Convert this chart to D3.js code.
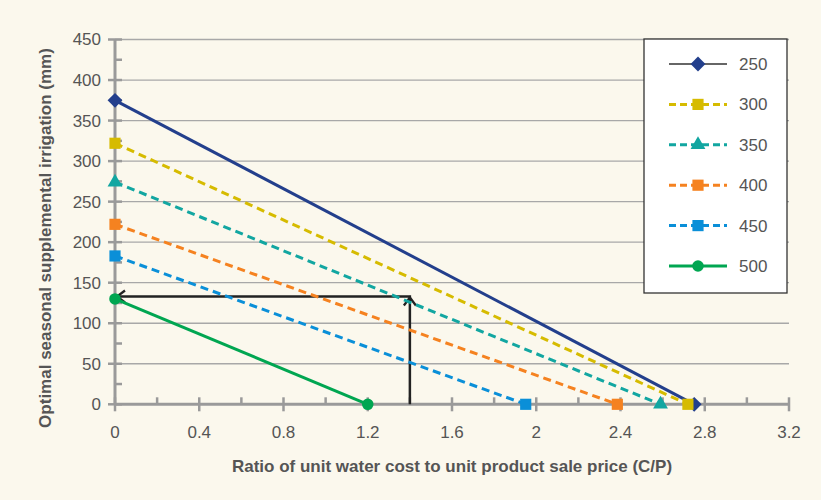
<!DOCTYPE html>
<html><head><meta charset="utf-8">
<script src="https://cdn.jsdelivr.net/npm/d3@7"></script>
<style>body{margin:0;background:#fbf8ed;}svg{display:block;font-family:"Liberation Sans",Arial,sans-serif;}</style>
</head><body>
<svg id="c" width="821" height="500"></svg>
<script>
const seriesNames = ["250","300","350","400","450","500"];
const startY = [375, 322, 274, 222, 183, 130];   // value at C/P = 0
const endX   = [2.75, 2.72, 2.59, 2.385, 1.95, 1.2]; // C/P where irrigation = 0
const colors = ["#233f8c","#d6bb00","#12a6a1","#f58220","#0a8fd8","#00a651"];
const symbols = ["diamond","square","triangle","square","square","circle"];
const dashed = [false,true,true,true,true,false];
const xTicks = [0,0.4,0.8,1.2,1.6,2,2.4,2.8,3.2];
const yTicks = [0,50,100,150,200,250,300,350,400,450];
const guideX = [1.4];
const guideY = [133];

const svg = d3.select("#c");
const x = d3.scaleLinear().domain([0,3.2]).range([115,789]);
const y = d3.scaleLinear().domain([0,450]).range([404.3,39.5]);
const fs = 17;

// gridlines
svg.append("g").selectAll("line").data(yTicks.filter(d=>d>0)).join("line")
  .attr("x1",x(0)).attr("x2",x(3.2)).attr("y1",d=>y(d)).attr("y2",d=>y(d))
  .attr("stroke","#a8a8a8").attr("stroke-width",1.3);

const axCol = "#9a9a9a";
// y axis
svg.append("line").attr("x1",x(0)).attr("x2",x(0)).attr("y1",y(0)).attr("y2",y(450))
  .attr("stroke",axCol).attr("stroke-width",3);
svg.append("g").selectAll("line").data(d3.range(0,451,25)).join("line")
  .attr("x1",d=>d%50===0?x(0)-7:x(0)).attr("x2",x(0)+7)
  .attr("y1",d=>y(d)).attr("y2",d=>y(d)).attr("stroke",axCol).attr("stroke-width",2.5);
svg.append("g").selectAll("text").data(yTicks).join("text")
  .attr("x",101).attr("y",d=>y(d)).attr("dy","0.35em").attr("text-anchor","end")
  .attr("font-size",fs).attr("fill","#555").text(d=>d);
// x axis
svg.append("line").attr("x1",x(0)).attr("x2",x(3.2)).attr("y1",y(0)).attr("y2",y(0))
  .attr("stroke",axCol).attr("stroke-width",3);
svg.append("g").selectAll("line").data(d3.range(0,17).map(i=>i*0.2)).join("line")
  .attr("x1",d=>x(d)).attr("x2",d=>x(d))
  .attr("y1",y(0)-7).attr("y2",(d,i)=>i%2===0?y(0)+7:y(0))
  .attr("stroke",axCol).attr("stroke-width",2.5);
svg.append("g").selectAll("text").data(xTicks).join("text")
  .attr("x",d=>x(d)).attr("y",432).attr("dy","0.35em").attr("text-anchor","middle")
  .attr("font-size",fs).attr("fill","#555").text(d=>d);

// titles
svg.append("text").attr("x",452).attr("y",472).attr("text-anchor","middle")
  .attr("font-size",fs).attr("font-weight","bold").attr("fill","#555")
  .text("Ratio of unit water cost to unit product sale price (C/P)");
svg.append("text").attr("transform","translate(51,238) rotate(-90)").attr("text-anchor","middle")
  .attr("font-size",fs).attr("font-weight","bold").attr("fill","#555")
  .text("Optimal seasonal supplemental irrigation (mm)");

// guide arrows
const gx = x(guideX[0]), gy = y(guideY[0]);
svg.append("path").attr("d",`M${gx},${y(0)}V${gy}H${x(0)}`)
  .attr("fill","none").attr("stroke","#222").attr("stroke-width",2.5);
svg.append("path").attr("d",`M${gx-6},${gy+9}L${gx},${gy+1}L${gx+6},${gy+9}`)
  .attr("fill","none").attr("stroke","#222").attr("stroke-width",2.3);
svg.append("path").attr("d",`M${x(0)+10},${gy-6}L${x(0)+2},${gy}L${x(0)+10},${gy+6}`)
  .attr("fill","none").attr("stroke","#222").attr("stroke-width",2.3);

function symPath(s){
  const m = {diamond:[d3.symbolSquare,110], square:[d3.symbolSquare,125], triangle:[d3.symbolTriangle,95], circle:[d3.symbolCircle,105]};
  return d3.symbol().type(m[s][0]).size(m[s][1])();
}
const rot = s => s==="diamond" ? " rotate(45)" : "";

// series lines
const line = d3.line().x(d=>x(d[0])).y(d=>y(d[1]));
seriesNames.forEach((n,i)=>{
  const pts = [[0,startY[i]],[endX[i],0]];
  svg.append("path").attr("d",line(pts)).attr("fill","none").attr("stroke",colors[i])
    .attr("stroke-width",3).attr("stroke-dasharray",dashed[i]?"8,5":null);
});
seriesNames.forEach((n,i)=>{
  const pts = [[0,startY[i]],[endX[i],0]];
  svg.append("g").selectAll("path").data(pts).join("path")
    .attr("d",symPath(symbols[i])).attr("fill",colors[i])
    .attr("transform",d=>`translate(${x(d[0])},${y(d[1])})${rot(symbols[i])}`);
});

// legend
const lg = svg.append("g");
lg.append("rect").attr("x",644).attr("y",39).attr("width",143).attr("height",254)
  .attr("fill","#fff").attr("stroke","#333").attr("stroke-width",1.3);
seriesNames.forEach((n,i)=>{
  const ly = 64 + i*40.4;
  lg.append("line").attr("x1",669).attr("x2",727).attr("y1",ly).attr("y2",ly)
    .attr("stroke",i===0?"#333":colors[i]).attr("stroke-width",i===0?1.5:3)
    .attr("stroke-dasharray",dashed[i]?"7,4":null);
  lg.append("path").attr("d",symPath(symbols[i])).attr("fill",colors[i])
    .attr("transform",`translate(698,${ly})${rot(symbols[i])}`);
  lg.append("text").attr("x",739).attr("y",ly).attr("dy","0.35em")
    .attr("font-size",fs).attr("fill","#555").text(n);
});
</script>
</body></html>
